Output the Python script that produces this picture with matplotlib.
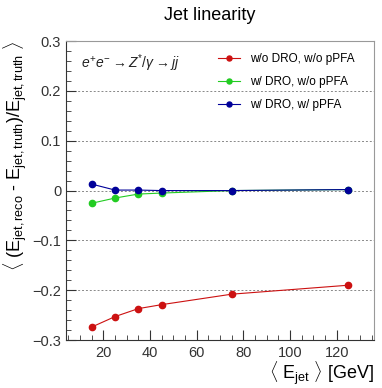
import matplotlib
matplotlib.use("Agg")
import matplotlib.pyplot as plt
from matplotlib.ticker import MultipleLocator

plt.rcParams['font.family'] = ['Liberation Sans', 'DejaVu Sans']
plt.rcParams['mathtext.fontset'] = 'custom'
plt.rcParams['mathtext.rm'] = 'Liberation Sans'
plt.rcParams['mathtext.it'] = 'Liberation Sans:italic'
plt.rcParams['mathtext.sf'] = 'Liberation Sans'

energy = [15, 25, 35, 45, 75, 125]
no_dro_no_ppfa = [-0.274, -0.253, -0.237, -0.229, -0.208, -0.190]
dro_no_ppfa = [-0.0255, -0.015, -0.007, -0.005, 0.000, 0.002]
dro_ppfa = [0.013, 0.001, 0.001, 0.000, 0.000, 0.002]
labels = ["w/o DRO, w/o pPFA", "w/ DRO, w/o pPFA", "w/ DRO, w/ pPFA"]
colors = ["#cc1111", "#22cc22", "#000099"]

fig = plt.figure(figsize=(3.82, 3.88), dpi=100)
ax = fig.add_axes([0.1728, 0.1237, 0.979 - 0.1728, 0.894 - 0.1237])

for y, lab, c in zip([no_dro_no_ppfa, dro_no_ppfa, dro_ppfa], labels, colors):
    ax.plot(energy, y, '-o', color=c, lw=0.8, ms=4.5, label=lab)

ax.set_xlim(4, 136)
ax.set_ylim(-0.3, 0.3)
ax.xaxis.set_major_locator(MultipleLocator(20))
ax.xaxis.set_minor_locator(MultipleLocator(5))
ax.yaxis.set_major_locator(MultipleLocator(0.1))
ax.yaxis.set_minor_locator(MultipleLocator(0.02))
ax.yaxis.set_major_formatter(plt.FuncFormatter(lambda v, p: "0" if abs(v) < 1e-9 else f"{v:.1f}".replace("-", "\u2212")))
ax.tick_params(which='both', direction='in', labelsize=10.5, colors='#333333')
ax.tick_params(which='major', length=7, width=0.8)
ax.tick_params(which='minor', length=3.5, width=0.6)
ax.tick_params(axis='x', pad=4)
ax.grid(axis='y', which='major', ls=(0, (2, 2)), color='#888888', lw=0.7)
for s in ['top', 'right']:
    ax.spines[s].set_color('#999999')
for s in ['left', 'bottom']:
    ax.spines[s].set_color('#333333')

fig.text(0.55, 0.96, "Jet linearity", ha='center', va='center', fontsize=13)
ax.text(0.05, 0.925, r"$e^{+}e^{-} \rightarrow Z^{*}/\gamma \rightarrow jj$",
        transform=ax.transAxes, fontsize=10, style='italic', va='center', color='#222222')
ax.legend(loc='upper left', bbox_to_anchor=(0.478, 0.976), borderaxespad=0, frameon=False,
          fontsize=8.5, handlelength=1.86, handletextpad=0.85, labelspacing=0.95, markerscale=0.8)

ax.set_ylabel(r"$\langle$ (E$_{\rm jet,reco}$ - E$_{\rm jet,truth}$)/E$_{\rm jet,truth}$ $\rangle$",
              fontsize=13, loc='top', labelpad=2)
ax.set_xlabel(r"$\langle$ E$_{\rm jet}$ $\rangle$ [GeV]", fontsize=13, loc='right', labelpad=0)

fig.savefig("out.png", dpi=100)
